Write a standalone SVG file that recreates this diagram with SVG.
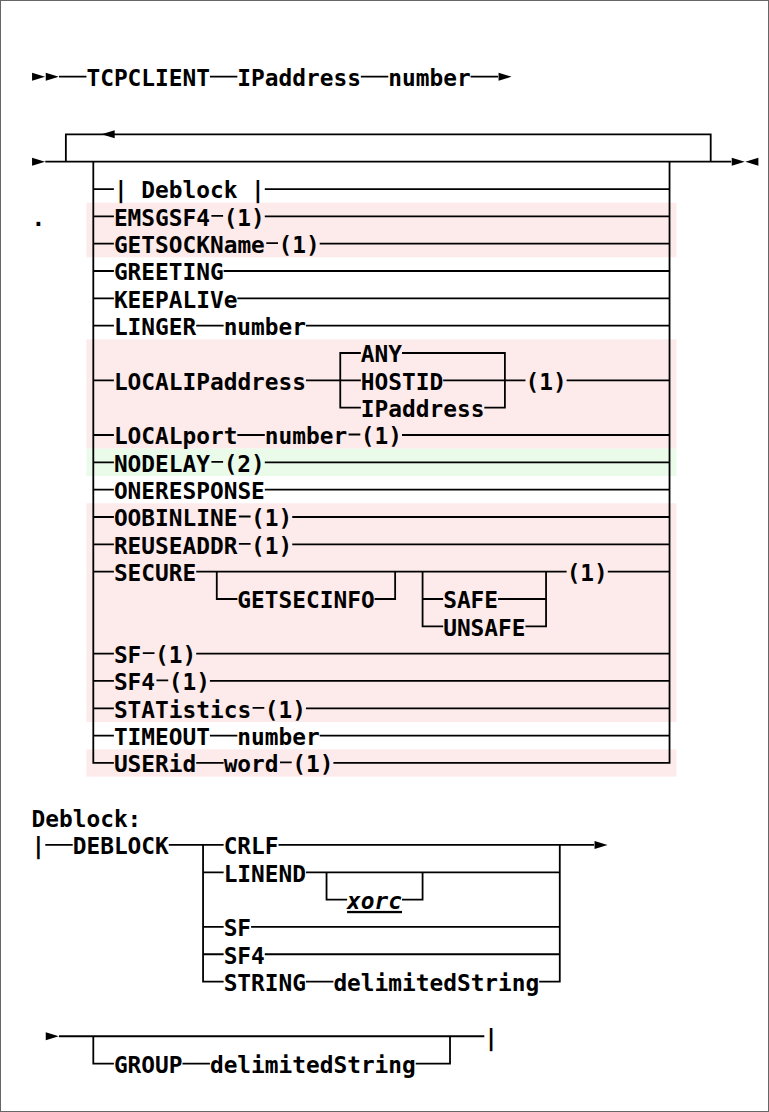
<svg xmlns="http://www.w3.org/2000/svg" width="769" height="1112" viewBox="0 0 769 1112">
<style>
.t{font-family:"DejaVu Sans Mono","Liberation Mono",monospace;font-weight:bold;font-size:22.8px;fill:#000}
.i{font-style:italic;text-decoration:underline}
.c{stroke:#000;stroke-width:1.8;fill:none}
.a{fill:#000}
.pk{fill:#fdeaea}
.gr{fill:#eafbea}
</style>
<rect x="0.5" y="0.5" width="768" height="1111" fill="#fff" stroke="#666" stroke-width="1"/>
<g id="bands">
<rect class="pk" x="86.44" y="202.69" width="589.96" height="54.66"/>
<rect class="pk" x="86.44" y="339.34" width="589.96" height="109.32"/>
<rect class="gr" x="86.44" y="448.66" width="589.96" height="27.33"/>
<rect class="pk" x="86.44" y="503.32" width="589.96" height="218.64"/>
<rect class="pk" x="86.44" y="749.29" width="589.96" height="27.33"/>
</g>
<g id="connectors">
<path class="c" d="M59.00 76.7 H86.44 M209.92 76.7 H237.36 M360.84 76.7 H388.28 M470.60 76.7 H498.04"/>
<path class="c" d="M65.86 161.70 V134.37 H710.70 V161.70"/>
<path class="c" d="M45.28 161.70 H731.28"/>
<path class="c" d="M93.30 161.70 V762.96 H113.88"/>
<path class="c" d="M669.54 161.70 V762.96 H333.40"/>
<path class="c" d="M93.30 189.03 H113.88 M264.80 189.03 H669.54
M93.30 216.36 H113.88 M264.80 216.36 H669.54
M93.30 243.69 H113.88 M319.68 243.69 H669.54
M93.30 271.02 H113.88 M223.64 271.02 H669.54
M93.30 298.35 H113.88 M237.36 298.35 H669.54
M93.30 325.68 H113.88 M196.20 325.68 H223.64 M305.96 325.68 H669.54
M93.30 380.34 H113.88 M305.96 380.34 H360.84 M443.16 380.34 H525.48 M566.64 380.34 H669.54
M93.30 435.00 H113.88 M237.36 435.00 H264.80 M402.00 435.00 H669.54
M93.30 462.33 H113.88 M264.80 462.33 H669.54
M93.30 489.66 H113.88 M264.80 489.66 H669.54
M93.30 516.99 H113.88 M292.24 516.99 H669.54
M93.30 544.32 H113.88 M292.24 544.32 H669.54
M93.30 571.65 H113.88 M196.20 571.65 H566.64 M607.80 571.65 H669.54
M93.30 653.64 H113.88 M196.20 653.64 H669.54
M93.30 680.97 H113.88 M209.92 680.97 H669.54
M93.30 708.30 H113.88 M305.96 708.30 H669.54
M93.30 735.63 H113.88 M209.92 735.63 H237.36 M319.68 735.63 H669.54
M196.20 762.96 H223.64"/>
<path class="c" d="M360.84 353.01 H340.26 V407.67 H360.84 M402.00 353.01 H504.90 V407.67 H484.32"/>
<path class="c" d="M216.78 571.65 V598.98 H237.36 M374.56 598.98 H395.14 V571.65"/>
<path class="c" d="M422.58 571.65 V626.31 H443.16 M422.58 598.98 H443.16 M498.04 598.98 H546.06 M525.48 626.31 H546.06 V571.65"/>
<path class="c" d="M211.4 215.86 H223.1 M266.3 243.19 H278.0 M348.6 434.5 H360.3 M211.4 461.83 H223.1 M238.9 516.49 H250.6 M238.9 543.82 H250.6 M142.8 653.14 H154.5 M156.5 680.47 H168.2 M252.6 707.80 H264.3 M280.0 762.46 H291.7"/>
<path class="c" d="M45.28 844.95 H72.72 M168.76 844.95 H223.64 M278.52 844.95 H594.08"/>
<path class="c" d="M203.06 844.95 V981.60 H223.64 M559.78 844.95 V981.60 H539.20"/>
<path class="c" d="M203.06 872.28 H223.64 M305.96 872.28 H559.78 M203.06 926.94 H223.64 M251.08 926.94 H559.78 M203.06 954.27 H223.64 M264.80 954.27 H559.78 M305.96 981.60 H333.40"/>
<path class="c" d="M326.54 872.28 V899.61 H347.12 M402.00 899.61 H422.58 V872.28"/>
<path class="c" d="M59.00 1036.26 H484.32"/>
<path class="c" d="M93.30 1036.26 V1063.59 H113.88 M450.02 1036.26 V1063.59 H415.72 M182.48 1063.59 H209.92"/>
<polygon class="a" points="32.06,72.7 45.06,76.7 32.06,80.7"/>
<polygon class="a" points="45.78,72.7 58.78,76.7 45.78,80.7"/>
<polygon class="a" points="498.54,72.7 511.54,76.7 498.54,80.7"/>
<polygon class="a" points="114.7,130.37 101.5,134.37 114.7,138.37"/>
<polygon class="a" points="32.06,157.7 45.06,161.7 32.06,165.7"/>
<polygon class="a" points="731.78,157.7 744.78,161.7 731.78,165.7"/>
<polygon class="a" points="758.4,157.7 745.3,161.7 758.4,165.7"/>
<polygon class="a" points="594.58,840.95 607.58,844.95 594.58,848.95"/>
<polygon class="a" points="45.78,1032.26 58.78,1036.26 45.78,1040.26"/>
</g>
<g id="n-title" class="t">
<text x="86.44" y="86.0">TCPCLIENT</text>
<text x="237.36" y="86.0">IPaddress</text>
<text x="388.28" y="86.0">number</text>
</g>
<g id="n-dot" class="t"><text x="31.56" y="225.66">.</text></g>
<g id="n-deblockref" class="t"><text x="113.88" y="198.33">| Deblock |</text></g>
<g id="n-emsgsf4" class="t"><text x="113.88" y="225.66">EMSGSF4</text><text x="223.64" y="225.66">(1)</text></g>
<g id="n-getsockname" class="t"><text x="113.88" y="252.99">GETSOCKName</text><text x="278.52" y="252.99">(1)</text></g>
<g id="n-greeting" class="t"><text x="113.88" y="280.32">GREETING</text></g>
<g id="n-keepalive" class="t"><text x="113.88" y="307.65">KEEPALIVe</text></g>
<g id="n-linger" class="t"><text x="113.88" y="334.98">LINGER</text><text x="223.64" y="334.98">number</text></g>
<g id="n-localipaddress" class="t">
<text x="360.84" y="362.31">ANY</text>
<text x="113.88" y="389.64">LOCALIPaddress</text>
<text x="360.84" y="389.64">HOSTID</text>
<text x="525.48" y="389.64">(1)</text>
<text x="360.84" y="416.97">IPaddress</text>
</g>
<g id="n-localport" class="t"><text x="113.88" y="444.30">LOCALport</text><text x="264.80" y="444.30">number</text><text x="360.84" y="444.30">(1)</text></g>
<g id="n-nodelay" class="t"><text x="113.88" y="471.63">NODELAY</text><text x="223.64" y="471.63">(2)</text></g>
<g id="n-oneresponse" class="t"><text x="113.88" y="498.96">ONERESPONSE</text></g>
<g id="n-oobinline" class="t"><text x="113.88" y="526.29">OOBINLINE</text><text x="251.08" y="526.29">(1)</text></g>
<g id="n-reuseaddr" class="t"><text x="113.88" y="553.62">REUSEADDR</text><text x="251.08" y="553.62">(1)</text></g>
<g id="n-secure" class="t">
<text x="113.88" y="580.95">SECURE</text>
<text x="566.64" y="580.95">(1)</text>
<text x="237.36" y="608.28">GETSECINFO</text>
<text x="443.16" y="608.28">SAFE</text>
<text x="443.16" y="635.61">UNSAFE</text>
</g>
<g id="n-sf" class="t"><text x="113.88" y="662.94">SF</text><text x="155.04" y="662.94">(1)</text></g>
<g id="n-sf4" class="t"><text x="113.88" y="690.27">SF4</text><text x="168.76" y="690.27">(1)</text></g>
<g id="n-statistics" class="t"><text x="113.88" y="717.60">STATistics</text><text x="264.80" y="717.60">(1)</text></g>
<g id="n-timeout" class="t"><text x="113.88" y="744.93">TIMEOUT</text><text x="237.36" y="744.93">number</text></g>
<g id="n-userid" class="t"><text x="113.88" y="772.26">USERid</text><text x="223.64" y="772.26">word</text><text x="292.24" y="772.26">(1)</text></g>
<g id="n-deblock-title" class="t"><text x="31.56" y="826.92">Deblock:</text></g>
<g id="n-deblock" class="t"><text x="31.56" y="854.25">|</text><text x="72.72" y="854.25">DEBLOCK</text></g>
<g id="n-crlf" class="t"><text x="223.64" y="854.25">CRLF</text></g>
<g id="n-linend" class="t"><text x="223.64" y="881.58">LINEND</text><text class="i" x="347.12" y="908.91">xorc</text></g>
<g id="n-dsf" class="t"><text x="223.64" y="936.24">SF</text></g>
<g id="n-dsf4" class="t"><text x="223.64" y="963.57">SF4</text></g>
<g id="n-string" class="t"><text x="223.64" y="990.90">STRING</text><text x="333.40" y="990.90">delimitedString</text></g>
<g id="n-end" class="t"><text x="484.32" y="1045.56">|</text></g>
<g id="n-group" class="t"><text x="113.88" y="1072.89">GROUP</text><text x="209.92" y="1072.89">delimitedString</text></g>
</svg>
